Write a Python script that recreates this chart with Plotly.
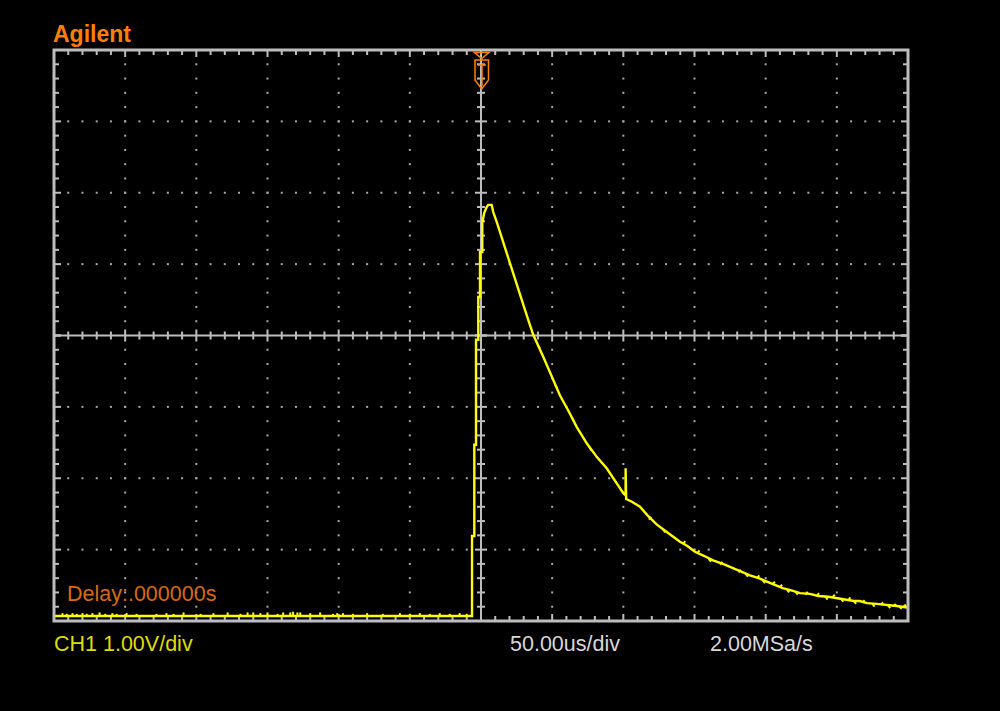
import plotly.graph_objects as go

# ---------------- data (read from the screen) ----------------
# main CH1 trace: time in microseconds, amplitude in volts (screen units, 1 V/div)
trace_t = [-300, -6.3, -6.3, -4.7, -4.7, -3.5, -3.5, -1.9, -1.9, -0.7, -0.7,
           0.9, 0.9, 2.3, 4.0, 5.1, 7.5, 8.6, 11.2, 15.5, 19.0, 25.3, 30.9,
           33.2, 36.7, 43.8, 49.7, 55.5, 61.3, 67.2, 74.3, 81.3, 88.3, 95.3,
           100.0, 101.6, 101.6, 102.0, 102.0, 106.0, 111.7, 117.0, 123.6, 131.0,
           139.8, 145.0, 150.3, 157.0, 163.0, 170.0, 177.0, 183.0, 189.0, 195.0,
           200.9, 206.0, 212.0, 218.0, 224.1, 231.0, 237.0, 244.0, 250.8, 256.0,
           262.0, 266.0, 271.2, 278.0, 285.0, 292.0, 299.3]
trace_v = [-3.93, -3.93, -2.81, -2.81, -1.53, -1.53, -0.06, -0.06, 0.54, 0.54, 1.17,
           1.17, 1.58, 1.72, 1.80, 1.83, 1.83, 1.73, 1.58, 1.31, 1.10, 0.68, 0.36,
           0.22, 0.01, -0.30, -0.58, -0.84, -1.05, -1.28, -1.51, -1.70, -1.86, -2.07,
           -2.21, -2.24, -1.86, -1.86, -2.29, -2.33, -2.40, -2.52, -2.65, -2.76,
           -2.89, -2.95, -3.03, -3.09, -3.15, -3.20, -3.26, -3.31, -3.36, -3.40,
           -3.45, -3.49, -3.54, -3.57, -3.61, -3.62, -3.65, -3.66, -3.68, -3.70,
           -3.72, -3.72, -3.75, -3.76, -3.78, -3.79, -3.81]

# small noise blips on the baseline (time in us, blip top in V)
blip_t = [-294, -291, -287, -284, -280, -277, -273, -268, -264, -259, -256, -249,
          -242, -228, -221, -216, -209, -197, -188, -178, -169, -164, -160, -155,
          -150, -143, -139, -134, -132, -129, -127, -120, -113, -104, -101, -97,
          -90, -80, -69, -57, -50, -43, -36, -29, -22, -15, -10]
blip_v = [-3.89, -3.90, -3.89, -3.90, -3.89, -3.90, -3.89, -3.88, -3.90, -3.89, -3.90, -3.89,
          -3.90, -3.90, -3.89, -3.90, -3.88, -3.90, -3.89, -3.88, -3.90, -3.88, -3.88, -3.89,
          -3.88, -3.90, -3.88, -3.88, -3.87, -3.88, -3.88, -3.89, -3.88, -3.90, -3.89, -3.89,
          -3.90, -3.89, -3.90, -3.89, -3.90, -3.89, -3.90, -3.89, -3.90, -3.89, -3.90]

# noise blips on the decaying tail (time in us, from V, to V)
tail_t = [40, 52, 64, 76, 118, 128, 142, 152, 160, 168, 181, 186, 194, 198, 205, 210, 215,
          221, 228, 236, 242, 247, 253, 258, 262, 268, 275, 281, 286, 290, 294, 297]
tail_a = [-0.14, -0.69, -1.15, -1.56, -2.58, -2.72, -2.92, -3.05, -3.13, -3.21, -3.32, -3.34,
          -3.40, -3.43, -3.48, -3.53, -3.56, -3.59, -3.63, -3.65, -3.66, -3.67, -3.69, -3.71,
          -3.72, -3.74, -3.76, -3.77, -3.78, -3.79, -3.80, -3.80]
tail_b = [-0.18, -0.74, -1.21, -1.61, -2.54, -2.76, -2.88, -3.01, -3.17, -3.17, -3.28, -3.38,
          -3.36, -3.47, -3.45, -3.49, -3.60, -3.63, -3.59, -3.61, -3.70, -3.63, -3.73, -3.67,
          -3.76, -3.71, -3.80, -3.74, -3.82, -3.76, -3.83, -3.77]

x_divs = [-300, -250, -200, -150, -100, -50, 0, 50, 100, 150, 200, 250, 300]
y_divs = [-4, -3, -2, -1, 0, 1, 2, 3, 4]

labels = {
    "brand": "Agilent",
    "delay": "Delay:.000000s",
    "ch1": "CH1 1.00V/div",
    "tdiv": "50.00us/div",
    "rate": "2.00MSa/s",
}

# ---------------- geometry ----------------
W, H = 1000, 711
L, R, T, B = 54, 908, 50, 621
XR = (-300, 300)
YR = (-4, 4)
ux = (XR[1] - XR[0]) / (R - L)   # us per pixel
uy = (YR[1] - YR[0]) / (B - T)   # V per pixel


def px_x(x):
    return XR[0] + (x - L) * ux


def px_y(y):
    return YR[1] - (y - T) * uy


def paper_x(x):
    return (x - L) / (R - L)


def paper_y(y):
    return (B - y) / (B - T)


GRAT = "#bdbdbd"
DOT = "#a9a9a9"
YEL = "#ffff00"

fig = go.Figure()

# dotted graticule lines
dx, dy = [], []
minor_x = [XR[0] + 10 * k for k in range(1, 60)]
minor_y = [round(YR[0] + 0.2 * k, 2) for k in range(1, 40)]
for xv in x_divs[1:-1]:
    if xv == 0:
        continue
    for yv in minor_y:
        if abs(yv) < 1e-9:
            continue
        dx.append(xv)
        dy.append(yv)
for yv in y_divs[1:-1]:
    if yv == 0:
        continue
    for xv in minor_x:
        if xv == 0:
            continue
        dx.append(xv)
        dy.append(yv)
fig.add_trace(go.Scatter(x=dx, y=dy, mode="markers",
                         marker=dict(symbol="square", size=2, color=DOT, line=dict(width=0)),
                         hoverinfo="skip", showlegend=False))

# tick marks on border and centre lines
tx, ty = [], []
for xv in minor_x + [0]:
    major = (xv % 50 == 0)
    ln = (7 if major else 5) * uy
    tx += [xv, xv, None, xv, xv, None]
    ty += [YR[0], YR[0] + ln, None, YR[1], YR[1] - ln, None]
    c = (6 if major else 4) * uy
    tx += [xv, xv, None]
    ty += [-c, c, None]
for yv in minor_y + [0]:
    major = abs(yv - round(yv)) < 1e-9
    ln = (7 if major else 5) * ux
    tx += [XR[0], XR[0] + ln, None, XR[1], XR[1] - ln, None]
    ty += [yv, yv, None, yv, yv, None]
    c = (6 if major else 4) * ux
    tx += [-c, c, None]
    ty += [yv, yv, None]
fig.add_trace(go.Scatter(x=tx, y=ty, mode="lines", line=dict(color=GRAT, width=2),
                         hoverinfo="skip", showlegend=False))

# centre cross
fig.add_trace(go.Scatter(x=[XR[0], XR[1], None, 0, 0], y=[0, 0, None, YR[0], YR[1]],
                         mode="lines", line=dict(color=GRAT, width=2),
                         hoverinfo="skip", showlegend=False))

# noise blips
bx, by = [], []
for t, v in zip(blip_t, blip_v):
    bx += [t, t, None]
    by += [trace_v[0], v, None]
for t, a, b in zip(tail_t, tail_a, tail_b):
    bx += [t, t + 1.5, None]
    by += [a, b, None]
fig.add_trace(go.Scatter(x=bx, y=by, mode="lines", line=dict(color=YEL, width=2),
                         hoverinfo="skip", showlegend=False))

# main trace
fig.add_trace(go.Scatter(x=trace_t, y=trace_v, mode="lines",
                         line=dict(color=YEL, width=2.4),
                         hoverinfo="skip", showlegend=False))

shapes = []
shapes.append(dict(type="rect", xref="paper", yref="paper", x0=0, x1=1, y0=0, y1=1,
                   line=dict(color=GRAT, width=3), layer="above"))
OR = "#ff8000"


def pth(pts, close=False):
    s = "M" + " L".join(f"{px_x(a):.4f},{px_y(b):.4f}" for a, b in pts)
    return s + (" Z" if close else "")


shapes.append(dict(type="path", xref="x", yref="y",
                   path=pth([(474.5, 52.5), (489, 52.5), (481.7, 58.5)], True),
                   line=dict(color=OR, width=1.5), layer="above"))
shapes.append(dict(type="path", xref="x", yref="y",
                   path=pth([(475, 60), (488.5, 60), (488.5, 80), (481.7, 89), (475, 80)], True),
                   line=dict(color=OR, width=1.5), layer="above"))
shapes.append(dict(type="path", xref="x", yref="y",
                   path=pth([(478, 65), (486, 65)]) + " " + pth([(482, 65), (482, 86)]),
                   line=dict(color=OR, width=1.5), layer="above"))

FONT = "Liberation Sans, Arial, sans-serif"
ann = [
    dict(text="<b>" + labels["brand"] + "</b>", x=paper_x(51), y=paper_y(33.5),
         font=dict(family=FONT, size=23, color="#ff8000")),
    dict(text=labels["delay"], x=paper_x(65), y=paper_y(594),
         font=dict(family=FONT, size=21.5, color="#d86a10")),
    dict(text=labels["ch1"], x=paper_x(52), y=paper_y(644),
         font=dict(family=FONT, size=21.5, color="#dede00")),
    dict(text=labels["tdiv"], x=paper_x(508), y=paper_y(644),
         font=dict(family=FONT, size=21.5, color="#d8d8d8")),
    dict(text=labels["rate"], x=paper_x(708), y=paper_y(644),
         font=dict(family=FONT, size=21.5, color="#d8d8d8")),
]
for a in ann:
    a.update(xref="paper", yref="paper", xanchor="left", yanchor="middle",
             showarrow=False)

fig.update_layout(
    width=W, height=H,
    margin=dict(l=L, r=W - R, t=T, b=H - B, pad=0),
    paper_bgcolor="black", plot_bgcolor="black",
    xaxis=dict(range=list(XR), visible=False, fixedrange=True),
    yaxis=dict(range=list(YR), visible=False, fixedrange=True),
    shapes=shapes, annotations=ann, showlegend=False,
)

fig.write_html(
    "out.html",
    config={"displayModeBar": False},
    post_script="document.body.style.margin='0';document.body.style.padding='0';"
                "document.body.style.background='black';"
                "document.documentElement.style.background='black';"
                "document.body.style.overflow='hidden';",
)
